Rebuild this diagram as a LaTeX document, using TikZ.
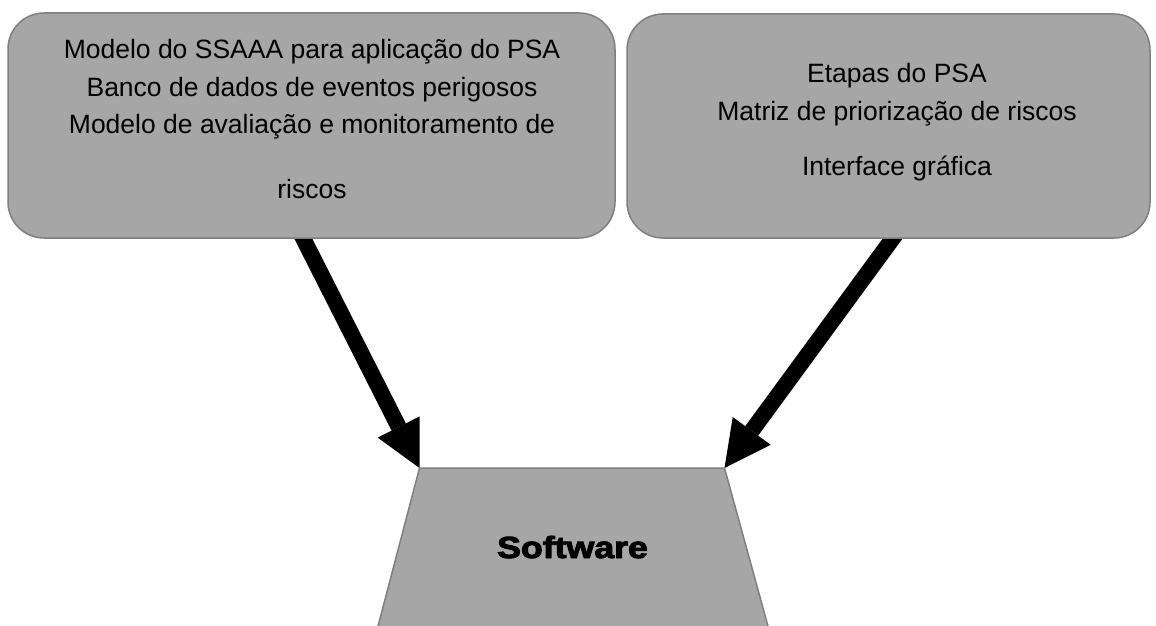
\documentclass[tikz,border=0pt]{standalone}
\usepackage{fontspec}
\setmainfont{Liberation Sans}
\newfontfamily\blackfont{Liberation Sans Bold}[FakeBold=3]
\usetikzlibrary{arrows.meta,backgrounds,calc}
\definecolor{boxfill}{HTML}{A6A6A6}
\definecolor{boxline}{HTML}{7F7F7F}
\tikzset{
  panel/.style={draw=boxline, fill=boxfill, line width=1.5pt, rounded corners=36pt, inner sep=0pt},
  txt/.style={anchor=base, inner sep=0pt, font=\fontsize{26.5}{32}\selectfont, text=black},
  bigarrow/.style={line width=16pt, draw=black, -{Triangle[length=46pt,width=47pt,line width=0pt]}},
  trap/.style={draw=boxline, fill=boxfill, line width=1.5pt}
}
\begin{document}
\begin{tikzpicture}[x=1pt,y=-1pt]
\useasboundingbox (0,0) rectangle (1156,626);
\clip (0,0) rectangle (1156,626);
% boxes
\node[panel, minimum width=607pt, minimum height=225pt] (L) at (311.5,125.5) {};
\node[panel, minimum width=523pt, minimum height=224pt] (R) at (888.5,126) {};
% left texts
\node[txt] (l1) at (312,59) {Modelo do SSAAA para aplicação do PSA};
\node[txt] (l2) at (312,96) {Banco de dados de eventos perigosos};
\node[txt] (l3) at (312,133) {Modelo de avaliação e monitoramento de};
\node[txt] (l4) at (312,198) {riscos};
% right texts
\node[txt] (r1) at (897,82) {Etapas do PSA};
\node[txt] (r2) at (897,120) {Matriz de priorização de riscos};
\node[txt] (r3) at (897,175) {Interface gráfica};
% trapezoid
\coordinate (tl) at (419.5,468);
\coordinate (tr) at (724.5,468);
\coordinate (br) at (771.8,640);
\coordinate (bl) at (374.4,640);
\draw[trap] (tl) -- (tr) -- (br) -- (bl) -- cycle;
\node[anchor=base, inner sep=0pt] (sw) at (572.5,558) {\scalebox{1.17}[1]{\blackfont\fontsize{30.5}{36}\selectfont Software}};
% arrows
\coordinate (la) at (298.9,230);
\coordinate (ra) at (898.9,230);
\begin{pgfonlayer}{background}
\draw[bigarrow] (la) -- (tl);
\draw[bigarrow] (ra) -- (tr);
\end{pgfonlayer}
\end{tikzpicture}
\end{document}
